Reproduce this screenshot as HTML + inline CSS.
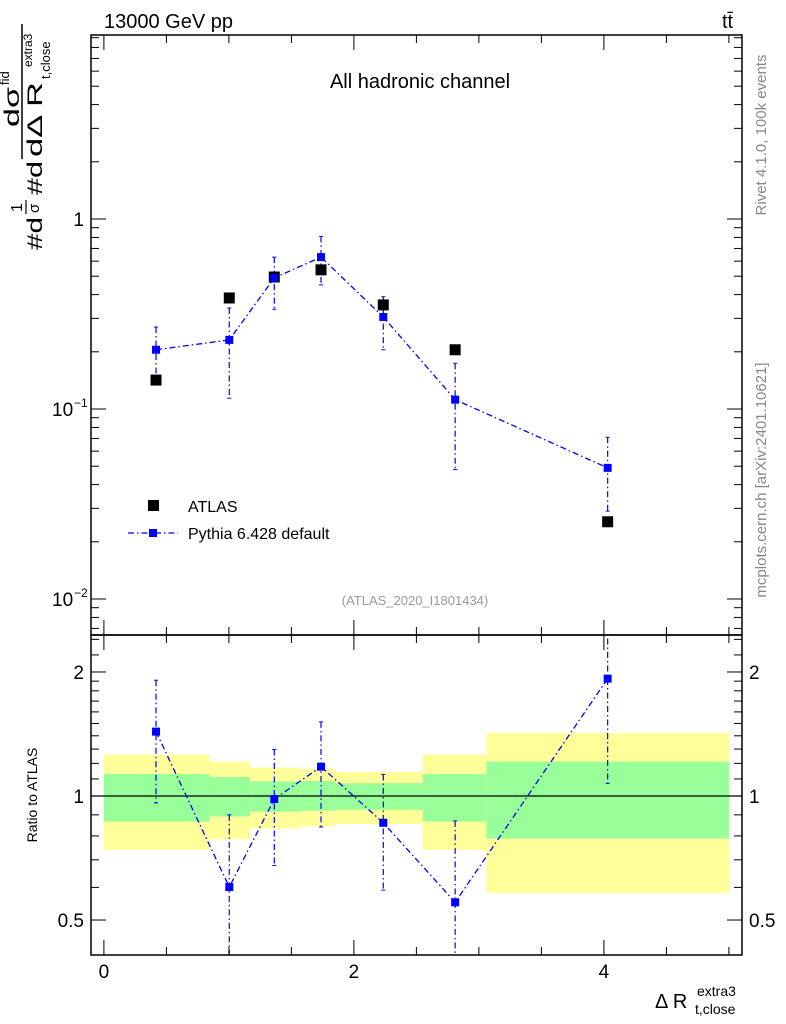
<!DOCTYPE html>
<html><head><meta charset="utf-8"><style>
html,body{margin:0;padding:0;background:#fff;}
svg{display:block;font-family:"Liberation Sans",sans-serif;}
</style></head><body>
<svg id="c" width="786" height="1024" viewBox="0 0 786 1024">
<text x="104" y="28" font-size="20">13000 GeV pp</text>
<text x="722" y="28" font-size="20">tt̄</text>
<text x="420" y="88" font-size="20" text-anchor="middle">All hadronic channel</text>
<text x="415" y="605" font-size="13" fill="#999" text-anchor="middle">(ATLAS_2020_I1801434)</text>
<text transform="translate(766,135) rotate(-90)" font-size="15" fill="#888" text-anchor="middle">Rivet 4.1.0,  100k events</text>
<text transform="translate(766,480) rotate(-90)" font-size="15" fill="#888" text-anchor="middle">mcplots.cern.ch [arXiv:2401.10621]</text>
<g transform="translate(36,250) rotate(-90)">
 <text x="0" y="6" font-size="21" textLength="33" lengthAdjust="spacingAndGlyphs">#d</text>
 <text x="38" y="-14" font-size="16">1</text><line x1="36" y1="-10" x2="50" y2="-10" stroke="#000" stroke-width="1.2"/><text x="37" y="3" font-size="15">σ</text>
 <text x="55" y="6" font-size="21" textLength="34" lengthAdjust="spacingAndGlyphs">#d</text>
 <line x1="91" y1="-14" x2="226" y2="-14" stroke="#000" stroke-width="1.5"/>
 <text x="123" y="-17" font-size="21" textLength="40" lengthAdjust="spacingAndGlyphs">dσ</text><text x="165" y="-27" font-size="13">fid</text>
 <text x="93" y="6" font-size="21" textLength="75" lengthAdjust="spacingAndGlyphs">dΔ R</text><text x="171" y="14" font-size="13">t,close</text><text x="183" y="-4" font-size="12">extra3</text>
</g>
<text transform="translate(37,795) rotate(-90)" font-size="14" text-anchor="middle">Ratio to ATLAS</text>
<g>
 <text x="655" y="1008" font-size="20">Δ R</text><text x="695" y="1014" font-size="14">t,close</text><text x="697" y="996" font-size="14">extra3</text>
</g>
<g>
 <rect x="148" y="500" width="11" height="11" fill="#000"/>
 <text x="188" y="512" font-size="16">ATLAS</text>
 <line x1="128" y1="533" x2="178" y2="533" stroke="#00f" stroke-width="1.3" stroke-dasharray="6,3,1.5,3"/>
 <rect x="149" y="529" width="8" height="8" fill="#00f"/>
 <text x="188" y="539" font-size="16">Pythia 6.428 default</text>
</g>
</svg>
<script>
const xs=[0.417,1.003,1.363,1.737,2.235,2.81,4.03];
const atlas=[0.142,0.384,0.495,0.54,0.353,0.205,0.0255];
const mc=[0.205,0.231,0.49,0.63,0.305,0.112,0.049];
const mcUp=[0.27,0.34,0.63,0.81,0.39,0.174,0.071];
const mcDn=[0.15,0.114,0.335,0.45,0.205,0.048,0.029];
const ratio=[1.433,0.601,0.983,1.178,0.861,0.552,1.927];
const ratioUp=[1.91,0.90,1.297,1.513,1.128,0.87,2.6];
const ratioDn=[0.962,0.3,0.678,0.841,0.591,0.3,1.073];
const binEdges=[0,0.846,1.17,1.57,1.85,2.55,3.06,5.0];
const yelUp=[1.261,1.212,1.172,1.163,1.144,1.261,1.422];
const yelDn=[0.740,0.786,0.834,0.843,0.855,0.740,0.582];
const grnUp=[1.131,1.112,1.085,1.087,1.074,1.131,1.212];
const grnDn=[0.867,0.892,0.916,0.921,0.926,0.867,0.788];
const NS='http://www.w3.org/2000/svg';
const svg=document.getElementById('c');
const L=91,R=742,T=35,M=635,B=955;
const X=v=>103.9+125*v;
const Y=v=>219-190*Math.log10(v);
const YR=v=>796-412*Math.log10(v);
function mk(t,a,p){const e=document.createElementNS(NS,t);for(const k in a)e.setAttribute(k,a[k]);(p||svg).appendChild(e);return e;}
const clipT=mk('clipPath',{id:'ct'});mk('rect',{x:L,y:T,width:R-L,height:M-T},clipT);
const clipB=mk('clipPath',{id:'cb'});mk('rect',{x:L,y:M,width:R-L,height:B-M},clipB);
const gb=mk('g',{'clip-path':'url(#cb)'});


for(let i=0;i<binEdges.length-1;i++){
 const x1=X(binEdges[i]),x2=X(binEdges[i+1]);
 const y=mk('rect',{x:x1,y:YR(yelUp[i]),width:x2-x1,height:YR(yelDn[i])-YR(yelUp[i]),fill:'#ffff99'},gb);
 
 
 const g=mk('rect',{x:x1,y:YR(grnUp[i]),width:x2-x1,height:YR(grnDn[i])-YR(grnUp[i]),fill:'#99ff99'},gb);
 
 
}
mk('line',{x1:L,x2:R,y1:YR(1),y2:YR(1),stroke:'#000','stroke-width':1.3});
const dash='6,3,1.5,3';
const gt=mk('g',{'clip-path':'url(#ct)'});
mk('polyline',{points:xs.map((x,i)=>X(x)+','+Y(mc[i])).join(' '),fill:'none',stroke:'#00f','stroke-width':1.3,'stroke-dasharray':dash},gt);
xs.forEach((x,i)=>{
 mk('line',{x1:X(x),x2:X(x),y1:Y(mcUp[i]),y2:Y(mcDn[i]),stroke:'#00f','stroke-width':1.2,'stroke-dasharray':dash},gt);
 mk('line',{x1:X(x)-2,x2:X(x)+2,y1:Y(mcUp[i]),y2:Y(mcUp[i]),stroke:'#00f'},gt);
 mk('line',{x1:X(x)-2,x2:X(x)+2,y1:Y(mcDn[i]),y2:Y(mcDn[i]),stroke:'#00f'},gt);
 const a=mk('rect',{x:X(x)-5.5,y:Y(atlas[i])-5.5,width:11,height:11,fill:'#000'},gt);
 
 
 const m=mk('rect',{x:X(x)-4,y:Y(mc[i])-4,width:8,height:8,fill:'#00f'},gt);
 
 
});
const gr=mk('g',{'clip-path':'url(#cb)'});
mk('polyline',{points:xs.map((x,i)=>X(x)+','+YR(ratio[i])).join(' '),fill:'none',stroke:'#00f','stroke-width':1.3,'stroke-dasharray':dash},gr);
xs.forEach((x,i)=>{
 mk('line',{x1:X(x),x2:X(x),y1:YR(ratioUp[i]),y2:YR(ratioDn[i]),stroke:'#00f','stroke-width':1.2,'stroke-dasharray':dash},gr);
 mk('line',{x1:X(x)-2,x2:X(x)+2,y1:YR(ratioUp[i]),y2:YR(ratioUp[i]),stroke:'#00f'},gr);
 mk('line',{x1:X(x)-2,x2:X(x)+2,y1:YR(ratioDn[i]),y2:YR(ratioDn[i]),stroke:'#00f'},gr);
 const m=mk('rect',{x:X(x)-4,y:YR(ratio[i])-4,width:8,height:8,fill:'#00f'},gr);
 
 
});
mk('rect',{x:L,y:T,width:R-L,height:M-T,fill:'none',stroke:'#000','stroke-width':1.5});
mk('rect',{x:L,y:M,width:R-L,height:B-M,fill:'none',stroke:'#000','stroke-width':1.5});
for(let d=-3;d<=1;d++)for(let k=1;k<10;k++){
 const v=k*Math.pow(10,d),y=Y(v);if(y<T||y>M)continue;
 const len=k==1?15:8;
 mk('line',{x1:L,x2:L+len,y1:y,y2:y,stroke:'#000'});mk('line',{x1:R,x2:R-len,y1:y,y2:y,stroke:'#000'});
}
[[1,'1'],[0.1,'10'],[0.01,'10']].forEach(([v,t],i)=>{
 const e=mk('text',{x:i==0?84:52,y:Y(v)+7,'font-size':19,'text-anchor':i==0?'end':'start'});e.textContent=t;
 
 
 if(i>0){const s=mk('text',{x:74,y:Y(v)-2,'font-size':12});s.textContent=i==1?'−1':'−2';}
});
const rt=[0.5,0.6,0.7,0.8,0.9,1,1.1,1.2,1.3,1.4,1.5,1.6,1.7,1.8,1.9,2,2.2,2.4];
rt.forEach(v=>{const y=YR(v);const len=(v==0.5||v==1||v==2)?15:8;
 mk('line',{x1:L,x2:L+len,y1:y,y2:y,stroke:'#000'});mk('line',{x1:R,x2:R-len,y1:y,y2:y,stroke:'#000'});});
[[2,'2'],[1,'1'],[0.5,'0.5']].forEach(([v,t])=>{
 const a=mk('text',{x:84,y:YR(v)+7,'font-size':19,'text-anchor':'end'});a.textContent=t;
 
 
 const b=mk('text',{x:749,y:YR(v)+7,'font-size':19});b.textContent=t;
 
 
});
for(let v=0;v<=5;v+=0.5){const x=X(v);const len=(v%2==0)?15:8;
 [[B,-1],[M,-1],[M,1],[T,1]].forEach(([y,s])=>mk('line',{x1:x,x2:x,y1:y,y2:y+s*len,stroke:'#000'}));}
[0,2,4].forEach(v=>{const e=mk('text',{x:X(v),y:978,'font-size':19,'text-anchor':'middle'});e.textContent=v;
 
 });
</script>
</body></html>
